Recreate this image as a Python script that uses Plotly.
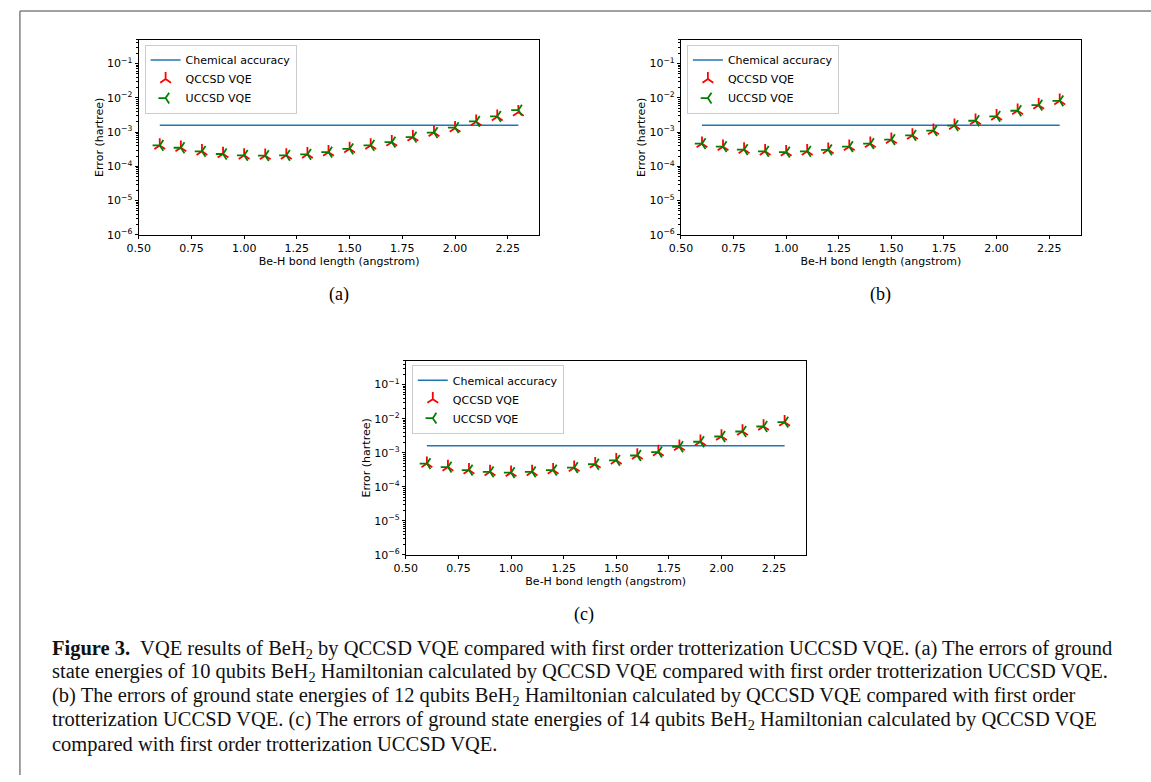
import plotly.graph_objects as go

# ---------------- data ----------------
bond_length = [0.6, 0.7, 0.8, 0.9, 1.0, 1.1, 1.2, 1.3, 1.4, 1.5,
               1.6, 1.7, 1.8, 1.9, 2.0, 2.1, 2.2, 2.3]
chem_x = [0.6, 2.3]
chem_acc = [0.0016, 0.0016]

qccsd_a = [4.1e-4, 3.5e-4, 2.75e-4, 2.3e-4, 2.1e-4, 2.05e-4, 2.1e-4, 2.25e-4, 2.6e-4,
           3.25e-4, 4.1e-4, 5.1e-4, 7.1e-4, 9.7e-4, 1.3e-3, 2.0e-3, 2.8e-3, 3.8e-3]
uccsd_a = [4.1e-4, 3.5e-4, 2.75e-4, 2.3e-4, 2.1e-4, 2.05e-4, 2.1e-4, 2.25e-4, 2.6e-4,
           3.25e-4, 4.1e-4, 5.1e-4, 7.1e-4, 9.7e-4, 1.36e-3, 2.05e-3, 2.9e-3, 4.4e-3]

qccsd_b = [4.6e-4, 3.75e-4, 3.1e-4, 2.75e-4, 2.6e-4, 2.75e-4, 3.05e-4, 3.75e-4, 4.6e-4,
           6.0e-4, 8.0e-4, 1.1e-3, 1.55e-3, 2.15e-3, 2.9e-3, 4.2e-3, 6.1e-3, 8.2e-3]
uccsd_b = [4.6e-4, 3.75e-4, 3.1e-4, 2.75e-4, 2.6e-4, 2.75e-4, 3.05e-4, 3.75e-4, 4.6e-4,
           6.0e-4, 8.0e-4, 1.1e-3, 1.55e-3, 2.15e-3, 2.9e-3, 4.2e-3, 6.1e-3, 8.2e-3]

qccsd_c = [4.8e-4, 3.8e-4, 3.1e-4, 2.75e-4, 2.6e-4, 2.75e-4, 3.1e-4, 3.65e-4, 4.6e-4,
           6.0e-4, 8.3e-4, 1.05e-3, 1.5e-3, 2.1e-3, 3.0e-3, 4.2e-3, 5.9e-3, 7.9e-3]
uccsd_c = [4.8e-4, 3.8e-4, 3.1e-4, 2.75e-4, 2.6e-4, 2.75e-4, 3.1e-4, 3.65e-4, 4.6e-4,
           6.0e-4, 8.3e-4, 1.05e-3, 1.5e-3, 2.1e-3, 3.0e-3, 4.2e-3, 5.9e-3, 7.9e-3]

x_ticks = [0.5, 0.75, 1.0, 1.25, 1.5, 1.75, 2.0, 2.25]
y_ticks = [1e-6, 1e-5, 1e-4, 1e-3, 1e-2, 1e-1]
y_ticktext = ["10<sup>\u22126</sup>", "10<sup>\u22125</sup>", "10<sup>\u22124</sup>",
              "10<sup>\u22123</sup>", "10<sup>\u22122</sup>", "10<sup>\u22121</sup>"]
panel_labels = ["(a)", "(b)", "(c)"]

caption_lines = [
    "<b>Figure 3.</b>  VQE results of BeH<sub>2</sub> by QCCSD VQE compared with first order trotterization UCCSD VQE. (a) The errors of ground",
    "state energies of 10 qubits BeH<sub>2</sub> Hamiltonian calculated by QCCSD VQE compared with first order trotterization UCCSD VQE.",
    "(b) The errors of ground state energies of 12 qubits BeH<sub>2</sub> Hamiltonian calculated by QCCSD VQE compared with first order",
    "trotterization UCCSD VQE. (c) The errors of ground state energies of 14 qubits BeH<sub>2</sub> Hamiltonian calculated by QCCSD VQE",
    "compared with first order trotterization UCCSD VQE.",
]

# ---------------- layout helpers ----------------
W, H = 1151, 782
def fx(p): return p / W
def fy(p): return 1 - p / H

panels = [
    dict(q=qccsd_a, u=uccsd_a, xd=(128, 533), yd=(40, 237), leg=(134, 45), cap=(330, 297)),
    dict(q=qccsd_b, u=uccsd_b, xd=(676, 1080), yd=(40, 237), leg=(682, 45), cap=(878, 297)),
    dict(q=qccsd_c, u=uccsd_c, xd=(398, 802), yd=(364, 560), leg=(404, 368), cap=(578, 620)),
]

FONT = "DejaVu Sans"
fig = go.Figure()

minor_vals = []
for e in range(-6, 0):
    for m in range(2, 10):
        minor_vals.append(m * 10 ** e)

annotations = []
layout = {}
for i, p in enumerate(panels):
    n = "" if i == 0 else str(i + 1)
    xa, ya = "x" + n, "y" + n
    lg = "legend" + n
    fig.add_trace(go.Scatter(x=chem_x, y=chem_acc, mode="lines", name="Chemical accuracy",
                             line=dict(color="#1f77b4", width=1.5), xaxis=xa, yaxis=ya, legend=lg))
    fig.add_trace(go.Scatter(x=bond_length, y=p["q"], mode="markers", name="QCCSD VQE",
                             marker=dict(symbol="y-up", size=9, color="#ff0000",
                                         line=dict(color="#ff0000", width=1.8)),
                             xaxis=xa, yaxis=ya, legend=lg))
    fig.add_trace(go.Scatter(x=bond_length, y=p["u"], mode="markers", name="UCCSD VQE",
                             marker=dict(symbol="y-left", size=9, color="#008000",
                                         line=dict(color="#008000", width=1.8)),
                             xaxis=xa, yaxis=ya, legend=lg))
    layout["xaxis" + n] = dict(
        domain=[fx(p["xd"][0]), fx(p["xd"][1])], anchor=ya, range=[0.5, 2.4],
        tickmode="array", tickvals=x_ticks, tickformat=".2f",
        ticks="outside", ticklen=3, tickcolor="black", showgrid=False, zeroline=False,
        showline=True, linecolor="black", linewidth=1, mirror=True,
        tickfont=dict(family=FONT, size=11, color="black"),
        title=dict(text="Be-H bond length (angstrom)", standoff=0,
                   font=dict(family=FONT, size=11, color="black")))
    layout["yaxis" + n] = dict(
        domain=[fy(p["yd"][1]), fy(p["yd"][0])], anchor=xa, type="log", range=[-6, -0.3],
        tickmode="array", tickvals=y_ticks, ticktext=y_ticktext,
        ticks="outside", ticklen=3, tickcolor="black", showgrid=False, zeroline=False,
        showline=True, linecolor="black", linewidth=1, mirror=True,
        minor=dict(tickmode="array", tickvals=minor_vals, ticks="outside", ticklen=2,
                   tickcolor="black", showgrid=False),
        tickfont=dict(family=FONT, size=11, color="black"),
        title=dict(text="Error (hartree)", standoff=1,
                   font=dict(family=FONT, size=11, color="black")))
    layout[lg] = dict(x=fx(p["leg"][0]), y=fy(p["leg"][1]), xanchor="left", yanchor="top",
                      xref="paper", yref="paper",
                      bgcolor="rgba(255,255,255,0.8)", bordercolor="#cccccc", borderwidth=1,
                      font=dict(family=FONT, size=11, color="black"), itemwidth=30,
                      tracegroupgap=0)
    annotations.append(dict(text=panel_labels[i], x=fx(p["cap"][0]), y=fy(p["cap"][1]),
                            xref="paper", yref="paper", showarrow=False,
                            xanchor="center", yanchor="middle",
                            font=dict(family="Liberation Serif", size=18, color="black")))

cap_y0 = 655
for k, line in enumerate(caption_lines):
    annotations.append(dict(text=line, x=fx(38), y=fy(cap_y0 + 24 * k), xref="paper", yref="paper",
                            showarrow=False, xanchor="left", yanchor="middle", align="left",
                            font=dict(family="Liberation Serif", size=20.5, color="#111111")))

shapes = [
    dict(type="line", xref="paper", yref="paper", x0=fx(8), y0=fy(11), x1=1, y1=fy(11),
         line=dict(color="#808080", width=1.5)),
    dict(type="line", xref="paper", yref="paper", x0=fx(8), y0=fy(11), x1=fx(8), y1=0,
         line=dict(color="#808080", width=1.5)),
]

fig.update_layout(width=W, height=H, margin=dict(l=0, r=0, t=0, b=0),
                  paper_bgcolor="white", plot_bgcolor="white", showlegend=True,
                  annotations=annotations, shapes=shapes, **layout)

fig.write_html("out.html")
